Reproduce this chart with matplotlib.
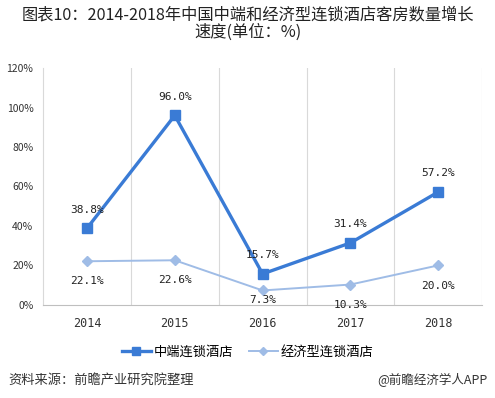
import matplotlib
matplotlib.use('Agg')
import matplotlib.pyplot as plt

plt.rcParams['font.family'] = ['Noto Sans CJK SC', 'DejaVu Sans']

years = ['2014', '2015', '2016', '2017', '2018']
midscale = [38.8, 96.0, 15.7, 31.4, 57.2]
economy = [22.1, 22.6, 7.3, 10.3, 20.0]
yticks = [0, 20, 40, 60, 80, 100, 120]

main_color = '#3A7BD5'
light_color = '#9FBCE6'
mono = ['DejaVu Sans Mono']

fig = plt.figure(figsize=(4.95, 3.98), dpi=100)
ax = fig.add_axes([0.087, 0.234, 0.887, 0.595])

x = list(range(len(years)))
ax.plot(x, midscale, color=main_color, lw=2.4, marker='s', ms=7.5,
        label='中端连锁酒店', zorder=3)
ax.plot(x, economy, color=light_color, lw=1.4, marker='D', ms=5,
        label='经济型连锁酒店', zorder=2)

for i, v in enumerate(midscale):
    ax.annotate('%.1f%%' % v, (i, v), xytext=(0, 13.5), textcoords='offset points',
                ha='center', va='center', fontsize=8, family=mono, color='#222222')
for i, v in enumerate(economy):
    # the 2016 label sits closer to its point in the original
    dy = -7 if i == 2 else -14.5
    ax.annotate('%.1f%%' % v, (i, v), xytext=(0, dy), textcoords='offset points',
                ha='center', va='center', fontsize=8, family=mono, color='#222222')

ax.set_xlim(-0.5, 4.5)
ax.set_ylim(0, 120)
ax.set_yticks(yticks)
ax.set_yticklabels(['%d%%' % t for t in yticks], fontsize=7.5, color='#333333')
ax.set_xticks(x)
ax.set_xticklabels(years, fontsize=8.5, family=mono, color='#333333')
for b in [0.5, 1.5, 2.5, 3.5, 4.5]:
    ax.axvline(b, color='#D9D9D9', lw=0.8, zorder=0)
ax.tick_params(length=0)
ax.tick_params(axis='y', pad=7)
ax.tick_params(axis='x', pad=9)
for s in ['top', 'right']:
    ax.spines[s].set_visible(False)
ax.spines['left'].set_color('#D9D9D9')
ax.spines['bottom'].set_color('#BFBFBF')

fig.legend(loc='center', bbox_to_anchor=(0.5, 0.115), ncol=2, frameon=False,
           fontsize=9.5, handlelength=2.2, columnspacing=1.2, handletextpad=0.2,
           markerscale=0.8)

fig.text(0.5, 0.962, '图表10：2014-2018年中国中端和经济型连锁酒店客房数量增长',
         ha='center', va='center', fontsize=11.7, color='#222222')
fig.text(0.5, 0.920, '速度(单位：%)', ha='center', va='center',
         fontsize=11.7, color='#222222')
fig.text(0.016, 0.045, '资料来源：前瞻产业研究院整理', ha='left', va='center',
         fontsize=9.5, color='#333333')
fig.text(0.985, 0.045, '@前瞻经济学人APP', ha='right', va='center',
         fontsize=9, color='#333333')

fig.savefig('out.png', dpi=100)
